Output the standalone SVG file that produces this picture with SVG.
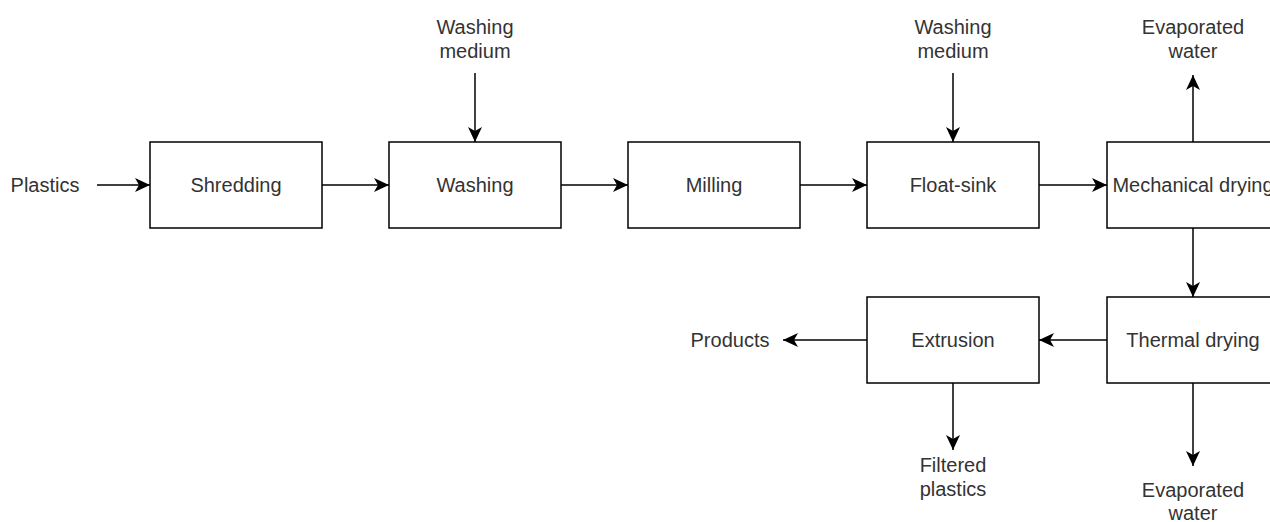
<svg xmlns="http://www.w3.org/2000/svg" width="1270" height="522" viewBox="0 0 1270 522">
  <style>
    .box { fill: #ffffff; stroke: #000000; stroke-width: 1.5; }
    .lbl { font-family: "Liberation Sans", Arial, sans-serif; font-size: 20px; fill: #333333; text-anchor: middle; }
    .edge { fill: none; stroke: #000000; stroke-width: 1.5; marker-end: url(#arrow); }
  </style>
  <defs>
    <marker id="arrow" viewBox="0 0 16 16" refX="15" refY="8" markerWidth="16" markerHeight="16" markerUnits="userSpaceOnUse" orient="auto">
      <path d="M15,8 L0,1 L4,8 L0,15 Z" fill="#000000"/>
    </marker>
  </defs>
  <rect width="1270" height="522" fill="#ffffff"/>

  <!-- process steps -->
  <g id="shredding">
    <rect class="box" x="150" y="142" width="172" height="86"/>
    <text class="lbl" x="236" y="192">Shredding</text>
  </g>
  <g id="washing">
    <rect class="box" x="389" y="142" width="172" height="86"/>
    <text class="lbl" x="475" y="192">Washing</text>
  </g>
  <g id="milling">
    <rect class="box" x="628" y="142" width="172" height="86"/>
    <text class="lbl" x="714" y="192">Milling</text>
  </g>
  <g id="float-sink">
    <rect class="box" x="867" y="142" width="172" height="86"/>
    <text class="lbl" x="953" y="192">Float-sink</text>
  </g>
  <g id="mechanical-drying">
    <rect class="box" x="1107" y="142" width="172" height="86"/>
    <text class="lbl" x="1193" y="192">Mechanical drying</text>
  </g>
  <g id="thermal-drying">
    <rect class="box" x="1107" y="297" width="172" height="86"/>
    <text class="lbl" x="1193" y="347">Thermal drying</text>
  </g>
  <g id="extrusion">
    <rect class="box" x="867" y="297" width="172" height="86"/>
    <text class="lbl" x="953" y="347">Extrusion</text>
  </g>

  <!-- inputs and outputs -->
  <g id="plastics-in">
    <text class="lbl" x="45" y="192">Plastics</text>
  </g>
  <g id="washing-medium-1">
    <text class="lbl" x="475" y="34">Washing</text>
    <text class="lbl" x="475" y="58">medium</text>
  </g>
  <g id="washing-medium-2">
    <text class="lbl" x="953" y="34">Washing</text>
    <text class="lbl" x="953" y="58">medium</text>
  </g>
  <g id="evaporated-water-1">
    <text class="lbl" x="1193" y="34">Evaporated</text>
    <text class="lbl" x="1193" y="58">water</text>
  </g>
  <g id="evaporated-water-2">
    <text class="lbl" x="1193" y="497">Evaporated</text>
    <text class="lbl" x="1193" y="520">water</text>
  </g>
  <g id="filtered-plastics">
    <text class="lbl" x="953" y="472">Filtered</text>
    <text class="lbl" x="953" y="496">plastics</text>
  </g>
  <g id="products">
    <text class="lbl" x="730" y="347">Products</text>
  </g>

  <!-- connectors -->
  <g id="connectors">
    <path class="edge" d="M97,185 L150,185"/>
    <path class="edge" d="M322,185 L389,185"/>
    <path class="edge" d="M561,185 L628,185"/>
    <path class="edge" d="M800,185 L867,185"/>
    <path class="edge" d="M1039,185 L1107,185"/>
    <path class="edge" d="M475,73 L475,142"/>
    <path class="edge" d="M953,73 L953,142"/>
    <path class="edge" d="M1193,142 L1193,75"/>
    <path class="edge" d="M1193,228 L1193,297"/>
    <path class="edge" d="M1107,340 L1039,340"/>
    <path class="edge" d="M867,340 L783,340"/>
    <path class="edge" d="M953,383 L953,450"/>
    <path class="edge" d="M1193,383 L1193,466"/>
  </g>
</svg>
